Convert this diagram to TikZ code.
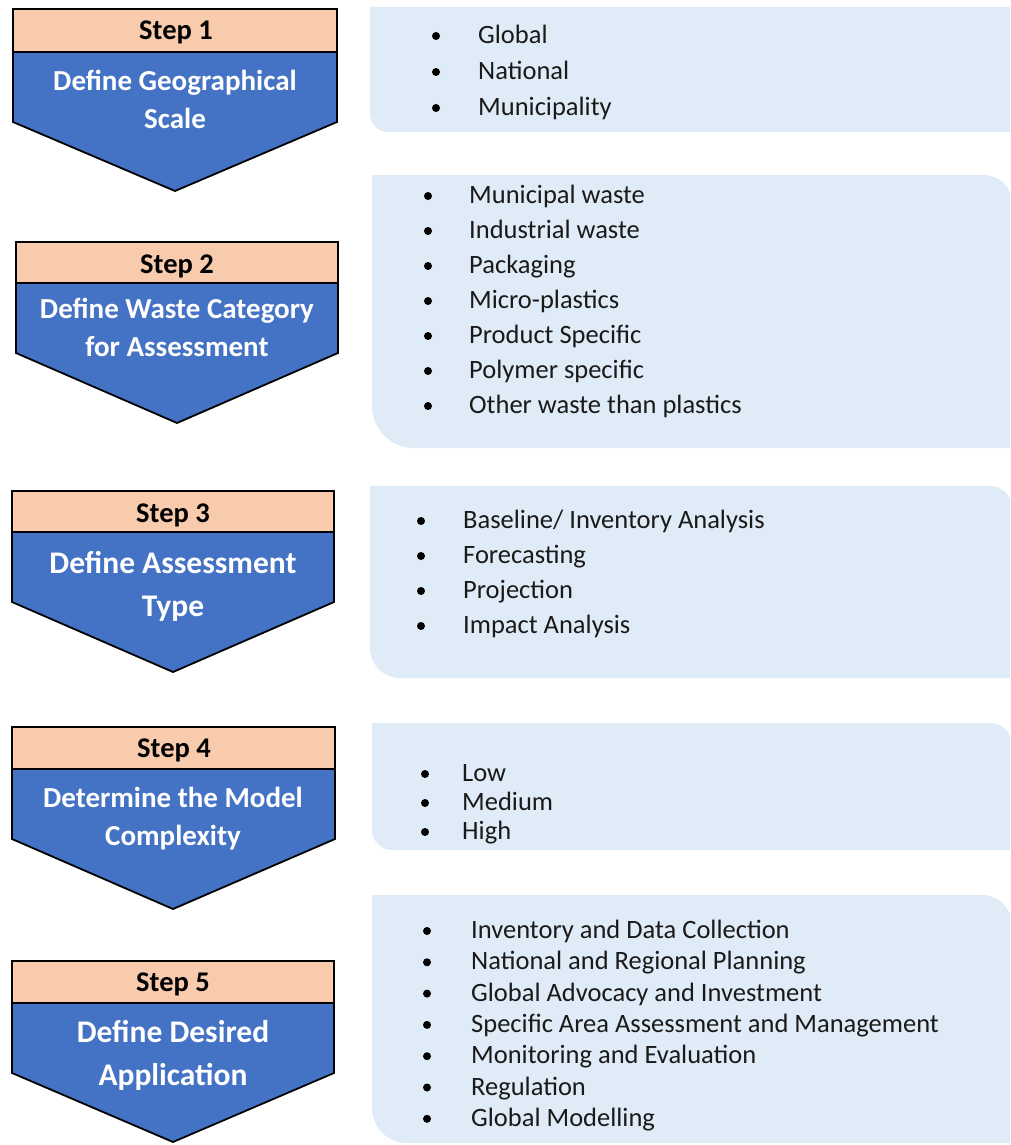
\documentclass[tikz,border=0pt]{standalone}
\usepackage{fontspec}
\setmainfont{Carlito}
\definecolor{stepblue}{HTML}{4472C4}
\definecolor{peach}{HTML}{F8CBAD}
\definecolor{panelblue}{HTML}{DFEBF6}
\definecolor{itemtext}{HTML}{1A1A1A}
% panel with rounded top-right and bottom-left corners:
% #1 left, #2 top, #3 right, #4 bottom, #5 top-right radius, #6 bottom-left radius
\newcommand\diagpanel[6]{%
  \fill[panelbg] (#1,#2) -- (#3-#5,#2)
    .. controls (#3-0.448*#5,#2) and (#3,#2+0.448*#5) .. (#3,#2+#5)
    -- (#3,#4) -- (#1+#6,#4)
    .. controls (#1+0.448*#6,#4) and (#1,#4-0.448*#6) .. (#1,#4-#6) -- cycle;}
% chevron with a header band:
% #1 left, #2 right, #3 top, #4 divider, #5 side bottom, #6 tip x, #7 tip y
\newcommand\stepshape[7]{%
  \draw[stepbody] (#1,#4) -- (#2,#4) -- (#2,#5) -- (#6,#7) -- (#1,#5) -- cycle;
  \draw[stephead] (#1,#3) rectangle (#2,#4);}
\begin{document}
\begin{tikzpicture}[x=1pt,y=-1pt,
  stepbody/.style={fill=stepblue, draw=black, line width=1.8pt, line join=miter},
  stephead/.style={fill=peach, draw=black, line width=1.8pt},
  panelbg/.style={fill=panelblue},
  headtext/.style={font=\bfseries\fontsize{28.5}{32}\selectfont, text=black, inner sep=0pt,
    text height=18pt, text depth=0pt},
  titletext/.style={font=\bfseries\fontsize{29}{38}\selectfont, text=white, align=center, inner sep=0pt},
  bigtitle/.style={titletext, font=\bfseries\fontsize{31.5}{43}\selectfont},
  item/.style={anchor=west, inner sep=0pt, text height=17pt, text depth=0pt,
    font=\fontsize{26.5}{30}\selectfont, text=itemtext},
  dot/.style={circle, fill=black, inner sep=0pt, minimum size=8pt}]
\useasboundingbox (0,0) rectangle (1010,1145);
\clip (0,0) rectangle (1010,1145);

% ---------- option panels ----------
\diagpanel{370}{7}{1040}{132}{30}{18}
\diagpanel{372}{175}{1012}{448}{28}{42}
\diagpanel{370}{486}{1012}{678}{22}{30}
\diagpanel{372}{723}{1012}{850}{22}{20}
\diagpanel{372}{895}{1012}{1143}{30}{35}

% ---------- step chevrons ----------
\stepshape{13}{337}{9}{52}{122}{175}{191}
\stepshape{16}{338}{242}{283}{353}{177}{423}
\stepshape{12}{334}{491}{532}{602}{173}{672}
\stepshape{12}{335}{727}{769}{839}{173}{909}
\stepshape{12}{334}{961}{1003}{1073}{173}{1142}

\node[headtext] (h1) at (176,31) {Step 1};
\node[headtext] (h2) at (177,264) {Step 2};
\node[headtext] (h3) at (173,513) {Step 3};
\node[headtext] (h4) at (174,748) {Step 4};
\node[headtext] (h5) at (173,982) {Step 5};

\node[titletext] (t1) at (175,99) {Define Geographical\\Scale};
\node[titletext] (t2) at (177,327) {Define Waste Category\\for Assessment};
\node[bigtitle] (t3) at (173,586) {Define Assessment\\Type};
\node[titletext] (t4) at (173,819) {Determine the Model\\Complexity};
\node[bigtitle] (t5) at (173,1055) {Define Desired\\Application};

% ---------- option lists ----------
\foreach \txt [count=\i] in {Global, National, Municipality}{
  \node[dot] (b1\i) at (436,36+36*\i-36) {};
  \node[item] (p1\i) at (478,35+36*\i-36) {\txt};}
\foreach \txt [count=\i] in {Municipal waste, Industrial waste, Packaging,
    Micro-plastics, Product Specific, Polymer specific, Other waste than plastics}{
  \node[dot] (b2\i) at (428,196+35*\i-35) {};
  \node[item] (p2\i) at (469,195+35*\i-35) {\txt};}
\foreach \txt [count=\i] in {Baseline/ Inventory Analysis, Forecasting, Projection, Impact Analysis}{
  \node[dot] (b3\i) at (421,521+35*\i-35) {};
  \node[item] (p3\i) at (463,520+35*\i-35) {\txt};}
\foreach \txt [count=\i] in {Low, Medium, High}{
  \node[dot] (b4\i) at (425,774+29*\i-29) {};
  \node[item] (p4\i) at (462,773+29*\i-29) {\txt};}
\foreach \txt [count=\i] in {Inventory and Data Collection, National and Regional Planning,
    Global Advocacy and Investment, Specific Area Assessment and Management,
    Monitoring and Evaluation, Regulation, Global Modelling}{
  \node[dot] (b5\i) at (427,931+31.3*\i-31.3) {};
  \node[item] (p5\i) at (471,930+31.3*\i-31.3) {\txt};}
\end{tikzpicture}
\end{document}
